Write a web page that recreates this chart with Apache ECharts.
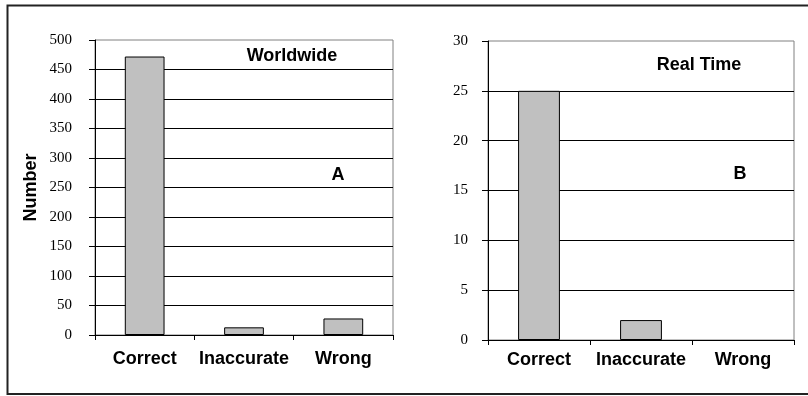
<!DOCTYPE html>
<html>
<head>
<meta charset="utf-8">
<script src="https://cdn.jsdelivr.net/npm/echarts@6/dist/echarts.min.js"></script>
<style>
html,body{margin:0;padding:0;background:#fff;}
#chart{width:808px;height:396px;}
</style>
</head>
<body>
<div id="chart"></div>
<script>
const categories = ['Correct', 'Inaccurate', 'Wrong'];
const worldwideValues = [472, 13, 28];
const realTimeValues = [25, 2, 0];
const panelTitles = ['Worldwide', 'Real Time'];
const panelLetters = ['A', 'B'];
const yAxisName = 'Number';

const chart = echarts.init(document.getElementById('chart'), null, {renderer: 'canvas'});

const boldFont = 'bold 18px "Liberation Sans", Arial';
const xLabel = {color: '#000', fontFamily: 'Liberation Sans, Arial', fontWeight: 'bold', fontSize: 18};
const yLabel = {color: '#000', fontFamily: 'Liberation Serif, Times New Roman', fontSize: 15};
const barStyle = {color: '#c0c0c0', borderColor: '#000', borderWidth: 1};

function barData(values) {
  return values.map(v => v === 0 ? {value: v, itemStyle: {borderWidth: 0}} : v);
}
function xAxis(gridIndex, margin) {
  return {
    type: 'category', gridIndex, data: categories,
    axisLine: {show: true, lineStyle: {color: '#000', width: 1}},
    axisTick: {show: true, alignWithLabel: false, length: 5, lineStyle: {color: '#000'}},
    axisLabel: Object.assign({margin, interval: 0}, xLabel),
    splitLine: {show: false}
  };
}
function yAxis(gridIndex, max, interval, margin, name) {
  return {
    type: 'value', gridIndex, min: 0, max, interval,
    name: name || '', nameLocation: 'middle', nameRotate: 90, nameGap: 55,
    nameTextStyle: {color: '#000', fontFamily: 'Liberation Sans, Arial', fontWeight: 'bold', fontSize: 18},
    axisLine: {show: true, lineStyle: {color: '#000', width: 1}},
    axisTick: {show: true, length: 6, lineStyle: {color: '#000'}},
    axisLabel: Object.assign({margin}, yLabel),
    splitLine: {show: true, showMaxLine: false, showMinLine: false, lineStyle: {color: '#000', width: 1}}
  };
}

chart.setOption({
  animation: false,
  backgroundColor: '#fff',
  grid: [
    {left: 95, top: 40, width: 298, height: 295, show: true, borderColor: '#808080', borderWidth: 1, backgroundColor: 'transparent'},
    {left: 488, top: 41, width: 306, height: 299, show: true, borderColor: '#808080', borderWidth: 1, backgroundColor: 'transparent'}
  ],
  xAxis: [xAxis(0, 15), xAxis(1, 11)],
  yAxis: [yAxis(0, 500, 50, 23, yAxisName), yAxis(1, 30, 5, 20)],
  series: [
    {type: 'bar', xAxisIndex: 0, yAxisIndex: 0, data: barData(worldwideValues), barWidth: '40%', itemStyle: barStyle},
    {type: 'bar', xAxisIndex: 1, yAxisIndex: 1, data: barData(realTimeValues), barWidth: '41%', itemStyle: barStyle}
  ],
  graphic: [
    {type: 'rect', shape: {x: 7.5, y: 5.5, width: 900, height: 388.5}, style: {fill: null, stroke: '#222', lineWidth: 2}, silent: true, z: 100},
    {type: 'text', x: 292, y: 56, style: {text: panelTitles[0], textAlign: 'center', textVerticalAlign: 'middle', font: boldFont, fill: '#000'}},
    {type: 'text', x: 699, y: 65, style: {text: panelTitles[1], textAlign: 'center', textVerticalAlign: 'middle', font: boldFont, fill: '#000'}},
    {type: 'text', x: 338, y: 175, style: {text: panelLetters[0], textAlign: 'center', textVerticalAlign: 'middle', font: boldFont, fill: '#000'}},
    {type: 'text', x: 740, y: 174, style: {text: panelLetters[1], textAlign: 'center', textVerticalAlign: 'middle', font: boldFont, fill: '#000'}}
  ]
});
</script>
</body>
</html>
